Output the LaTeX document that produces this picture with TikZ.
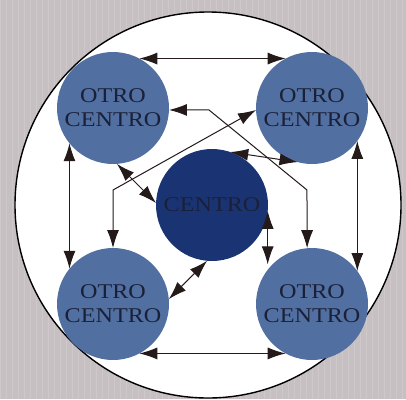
\documentclass[tikz,border=0pt]{standalone}
\usepackage{fontspec}
\setmainfont{Liberation Serif}
\newfontfamily\lblfont[FakeStretch=1.15]{Liberation Serif}
\usetikzlibrary{arrows.meta}
\definecolor{bgc}{HTML}{C6C0C3}
\definecolor{gridc}{HTML}{D6D1D4}
\definecolor{outerblue}{HTML}{516FA0}
\definecolor{centerblue}{HTML}{1A3473}
\definecolor{txtc}{HTML}{1A2038}
\definecolor{linec}{HTML}{241A1A}
\tikzset{
  ball/.style={circle, fill=outerblue, minimum size=112pt, inner sep=0pt, outer sep=0pt,
    font=\lblfont\fontsize{21}{24}\selectfont, text=txtc, align=center},
  core/.style={ball, fill=centerblue, text=txtc},
  link/.style={draw=linec, line width=1pt,
    {Latex[length=18pt,width=12pt]}-{Latex[length=18pt,width=12pt]}}
}
\begin{document}
\begin{tikzpicture}[x=1pt,y=-1pt]
\useasboundingbox (0,0) rectangle (406,399);
\fill[bgc] (0,0) rectangle (406,399);
\draw[gridc, line width=0.8pt, opacity=0.5] (0,0) grid[step=6] (406,399);
\node[circle, draw=black, line width=1.4pt, fill=white, minimum size=386pt, inner sep=0pt] (ring) at (208,205) {};
\node[ball] (TL) at (113,108) {OTRO\\CENTRO};
\node[ball] (TR) at (312,108) {OTRO\\CENTRO};
\node[ball] (BL) at (113,304) {OTRO\\CENTRO};
\node[ball] (BR) at (312,304) {OTRO\\CENTRO};
\node[core] (C) at (212,205) {CENTRO};
% outer frame links
\draw[link] (TL.62) -- (TR.118);
\draw[link] (BL.-62) -- (BR.-118);
\draw[link] (TL.219) -- (BL.141);
\draw[link] (TR.-36) -- (BR.36);
% polylines
\draw[link] (BL.90) -- ++(0,-58) -- (TR.182);
\draw[link] (TL.-2) -- ++(40,0) -- ++(98,80) -- (BR.95);
% center links
\draw[link] (C.71) -- (TR.-105);
\draw[link] (C.-6) -- (BR.135 -| C.-6);
\draw[link] (C.-95) -- (BL.5);
\draw[link] (TL.-86) -- (C.178);
\end{tikzpicture}
\end{document}
